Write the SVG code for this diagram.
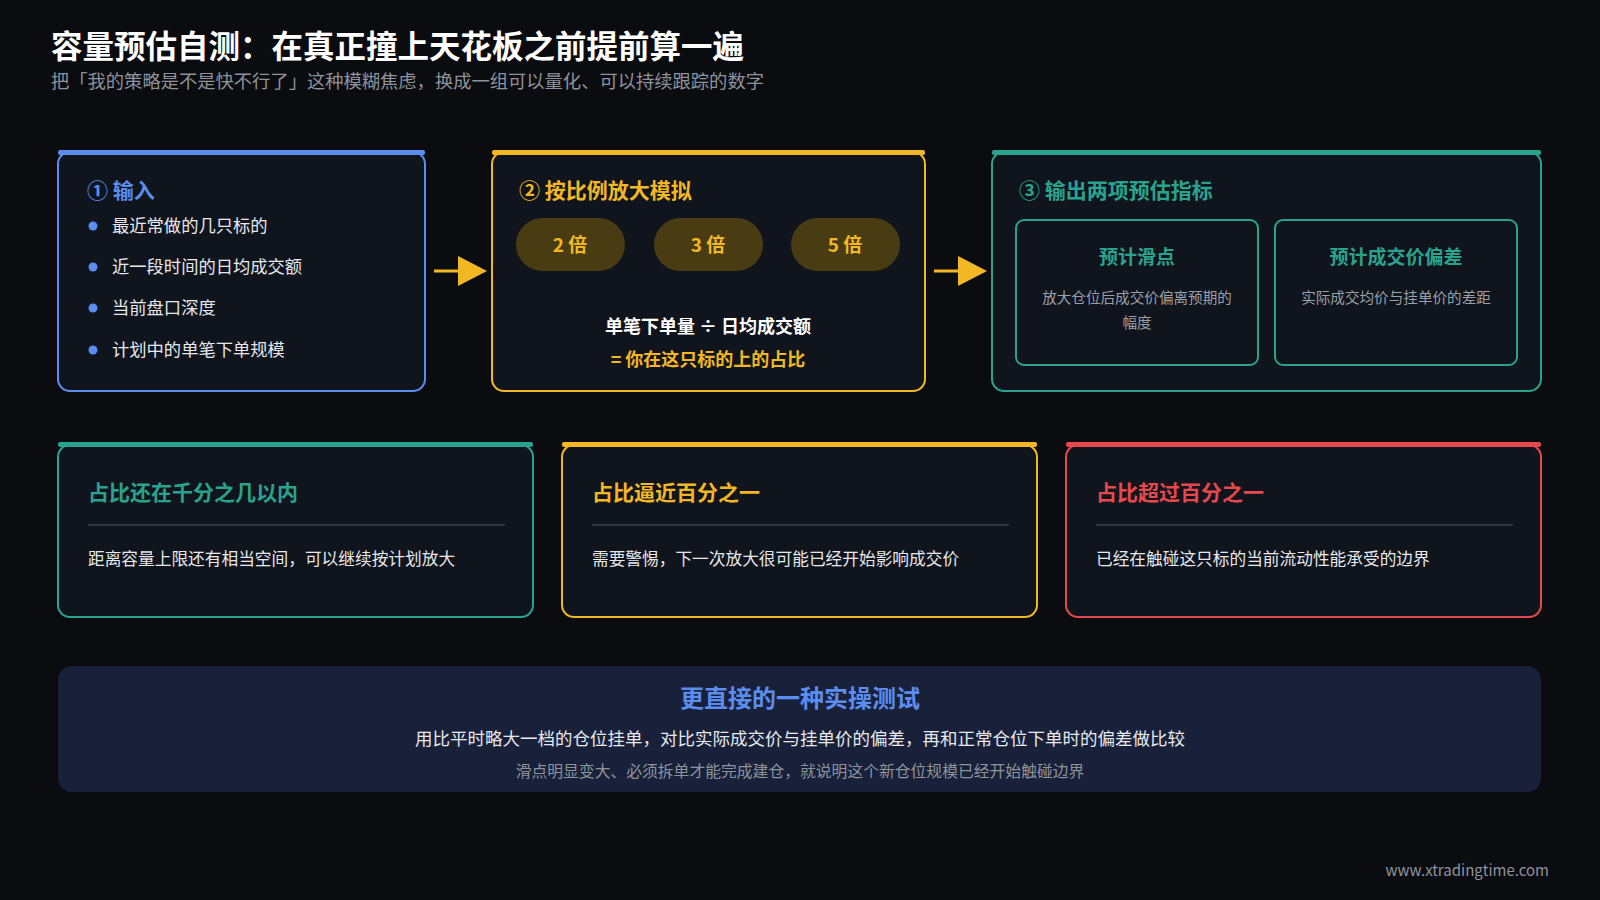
<svg xmlns="http://www.w3.org/2000/svg" width="1600" height="900" viewBox="0 0 1600 900">
<defs>
<style>
text{font-family:"Noto Sans CJK SC","Noto Sans",sans-serif}
.box{fill:#10141c;stroke-width:2}
.b{stroke:#5b8def}.y{stroke:#f2b824}.t{stroke:#2aa38e}.r{stroke:#e5484d}
.h{font-size:21px;font-weight:700}
.tx{font-size:17.3px;fill:#e6e8ec}
.tx2{font-size:16.7px;fill:#e6e8ec}
.sm{font-size:14.6px;fill:#9aa0a8}
.pill{fill:#4a3c12}
.pt{font-size:19px;font-weight:700;fill:#f2b824;text-anchor:middle}
.div{stroke:#3a3f48;stroke-width:1.5}
</style>
</defs>
<rect width="1600" height="900" fill="#0b0c10"/>
<text x="51" y="58" font-size="31.5" font-weight="700" fill="#ffffff">容量预估自测：在真正撞上天花板之前提前算一遍</text>
<text x="51" y="88" font-size="18.3" fill="#8e939b">把「我的策略是不是快不行了」这种模糊焦虑，换成一组可以量化、可以持续跟踪的数字</text>

<g id="input">
<rect class="box b" x="58" y="152" width="367" height="239" rx="12"/>
<rect x="58" y="150" width="367" height="5" rx="2" fill="#5b8def"/>
<text x="87" y="198" class="h" fill="#5b8def">① 输入</text>
<g fill="#5b8def"><circle cx="93" cy="226" r="4.5"/><circle cx="93" cy="267" r="4.5"/><circle cx="93" cy="308" r="4.5"/><circle cx="93" cy="350" r="4.5"/></g>
<text x="112" y="232" class="tx">最近常做的几只标的</text>
<text x="112" y="273" class="tx">近一段时间的日均成交额</text>
<text x="112" y="314" class="tx">当前盘口深度</text>
<text x="112" y="356" class="tx">计划中的单笔下单规模</text>
</g>

<g id="simulate">
<rect class="box y" x="492" y="152" width="433" height="239" rx="12"/>
<rect x="492" y="150" width="433" height="5" rx="2" fill="#f2b824"/>
<text x="519" y="198" class="h" fill="#f2b824">② 按比例放大模拟</text>
<rect class="pill" x="516" y="218" width="109" height="53" rx="26.5"/>
<rect class="pill" x="654" y="218" width="109" height="53" rx="26.5"/>
<rect class="pill" x="791" y="218" width="109" height="53" rx="26.5"/>
<text x="570" y="252" class="pt">2 倍</text>
<text x="708" y="252" class="pt">3 倍</text>
<text x="845" y="252" class="pt">5 倍</text>
<text x="708" y="333" font-size="18" font-weight="700" fill="#ffffff" text-anchor="middle">单笔下单量 ÷ 日均成交额</text>
<text x="708" y="366" font-size="18" font-weight="700" fill="#f2b824" text-anchor="middle">= 你在这只标的上的占比</text>
</g>

<g id="output">
<rect class="box t" x="992" y="152" width="549" height="239" rx="12"/>
<rect x="992" y="150" width="549" height="5" rx="2" fill="#2aa38e"/>
<text x="1019" y="198" class="h" fill="#2aa38e">③ 输出两项预估指标</text>
<rect class="box t" x="1016" y="220" width="242" height="145" rx="8" stroke-width="1.5"/>
<rect class="box t" x="1275" y="220" width="242" height="145" rx="8" stroke-width="1.5"/>
<text x="1137" y="264" font-size="19" font-weight="700" fill="#2aa38e" text-anchor="middle">预计滑点</text>
<text x="1137" y="303" class="sm" text-anchor="middle">放大仓位后成交价偏离预期的</text>
<text x="1137" y="328" class="sm" text-anchor="middle">幅度</text>
<text x="1396" y="264" font-size="19" font-weight="700" fill="#2aa38e" text-anchor="middle">预计成交价偏差</text>
<text x="1396" y="303" class="sm" text-anchor="middle">实际成交均价与挂单价的差距</text>
</g>

<g id="connectors" stroke="#f2b824" fill="#f2b824" stroke-width="3">
<line x1="434" y1="271" x2="462" y2="271"/>
<path d="M458,256 L487,271 L458,286 Z" stroke="none"/>
<line x1="934" y1="271" x2="962" y2="271"/>
<path d="M958,256 L987,271 L958,286 Z" stroke="none"/>
</g>

<g id="low">
<rect class="box t" x="58" y="445" width="475" height="172" rx="12"/>
<rect x="58" y="442" width="475" height="5" rx="2" fill="#2aa38e"/>
<text x="88" y="500" class="h" fill="#2aa38e">占比还在千分之几以内</text>
<line class="div" x1="88" y1="525" x2="505" y2="525"/>
<text x="88" y="565" class="tx2">距离容量上限还有相当空间，可以继续按计划放大</text>
</g>
<g id="near">
<rect class="box y" x="562" y="445" width="475" height="172" rx="12"/>
<rect x="562" y="442" width="475" height="5" rx="2" fill="#f2b824"/>
<text x="592" y="500" class="h" fill="#f2b824">占比逼近百分之一</text>
<line class="div" x1="592" y1="525" x2="1009" y2="525"/>
<text x="592" y="565" class="tx2">需要警惕，下一次放大很可能已经开始影响成交价</text>
</g>
<g id="over">
<rect class="box r" x="1066" y="445" width="475" height="172" rx="12"/>
<rect x="1066" y="442" width="475" height="5" rx="2" fill="#e5484d"/>
<text x="1096" y="500" class="h" fill="#e5484d">占比超过百分之一</text>
<line class="div" x1="1096" y1="525" x2="1513" y2="525"/>
<text x="1096" y="565" class="tx2">已经在触碰这只标的当前流动性能承受的边界</text>
</g>

<g id="test">
<rect x="58" y="666" width="1483" height="126" rx="14" fill="#19213a"/>
<text x="800" y="707" font-size="24" font-weight="700" fill="#5b8def" text-anchor="middle">更直接的一种实操测试</text>
<text x="800" y="745" font-size="17.5" fill="#e6e8ec" text-anchor="middle">用比平时略大一档的仓位挂单，对比实际成交价与挂单价的偏差，再和正常仓位下单时的偏差做比较</text>
<text x="800" y="777" font-size="15.8" fill="#8e939b" text-anchor="middle">滑点明显变大、必须拆单才能完成建仓，就说明这个新仓位规模已经开始触碰边界</text>
</g>
<text x="1549" y="876" font-size="15" fill="#8e939b" text-anchor="end" font-family="Liberation Sans, sans-serif">www.xtradingtime.com</text>
</svg>
